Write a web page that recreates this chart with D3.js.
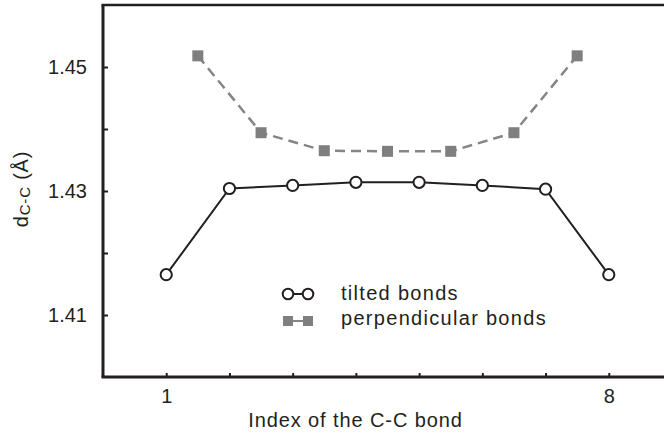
<!DOCTYPE html>
<html>
<head>
<meta charset="utf-8">
<script src="https://cdn.jsdelivr.net/npm/d3@7"></script>
<style>
  html, body { margin: 0; padding: 0; background: #fff; }
  svg { display: block; }
  text { font-family: "Liberation Sans", Arial, sans-serif; fill: #231f20; }
</style>
</head>
<body>
<svg id="chart" width="664" height="434"></svg>
<script>
// Bond index and C-C bond lengths (Å)
const tiltedIndex = [1, 2, 3, 4, 5, 6, 7, 8];
const tiltedLength = [1.4165, 1.4304, 1.4309, 1.4314, 1.4314, 1.4309, 1.4303, 1.4165];
const perpIndex = [1.5, 2.5, 3.5, 4.5, 5.5, 6.5, 7.5];
const perpLength = [1.4518, 1.4394, 1.4365, 1.4364, 1.4364, 1.4394, 1.4518];

const xTicks = [1, 2, 3, 4, 5, 6, 7, 8];
const xTickLabels = { 1: "1", 8: "8" };
const yTicks = [1.41, 1.42, 1.43, 1.44, 1.45];
const yTickLabels = { "1.41": "1.41", "1.43": "1.43", "1.45": "1.45" };

const legendLabels = ["tilted bonds", "perpendicular bonds"];

const ink = "#231f20";
const grey = "#7f7f7f";
const greyLine = "#858585";

const svg = d3.select("#chart");

const x = d3.scaleLinear().domain([0, 9]).range([103, 672]);
const y = d3.scaleLinear().domain([1.40, 1.46]).range([377, 5]);

// Axes with inward ticks
const yAxis = d3.axisLeft(y)
  .tickValues(yTicks)
  .tickSize(-5)
  .tickPadding(16)
  .tickFormat(d => yTickLabels[d.toFixed(2)] || "");

const xAxis = d3.axisBottom(x)
  .tickValues(xTicks)
  .tickSize(-4)
  .tickPadding(12)
  .tickFormat(d => xTickLabels[d] || "");

const gy = svg.append("g").attr("transform", `translate(${x(0)},0)`).call(yAxis);
const gx = svg.append("g").attr("transform", `translate(0,${y(1.40)})`).call(xAxis);

[gx, gy].forEach(g => {
  g.select(".domain").remove();
  g.selectAll(".tick line").attr("stroke", ink).attr("stroke-width", 2);
  g.selectAll(".tick text")
    .style("font-family", "'Liberation Sans', Arial, sans-serif")
    .style("font-size", "20px")
    .attr("fill", ink);
});

// Frame: left, bottom and top lines
svg.append("line")
  .attr("x1", x(0)).attr("x2", x(0))
  .attr("y1", y(1.46)).attr("y2", y(1.40))
  .attr("stroke", ink).attr("stroke-width", 3);
svg.append("line")
  .attr("x1", x(0) - 1.5).attr("x2", x(9))
  .attr("y1", y(1.40)).attr("y2", y(1.40))
  .attr("stroke", ink).attr("stroke-width", 3);
svg.append("line")
  .attr("x1", x(0) - 1.5).attr("x2", x(9))
  .attr("y1", y(1.46)).attr("y2", y(1.46))
  .attr("stroke", ink).attr("stroke-width", 2.5);

// Axis titles
svg.append("text")
  .attr("x", (x(0) + 608) / 2)
  .attr("y", 427)
  .attr("text-anchor", "middle")
  .style("font-size", "20px")
  .style("letter-spacing", "0.9px")
  .text("Index of the C-C bond");

const yLabel = svg.append("text")
  .attr("transform", `translate(28,${y(1.43) - 2}) rotate(-90)`)
  .attr("text-anchor", "middle")
  .style("font-size", "20px")
  .style("letter-spacing", "0.8px");
yLabel.append("tspan").text("d");
yLabel.append("tspan").style("font-size", "15px").attr("dy", 2).text("C-C");
yLabel.append("tspan").attr("dy", -2).text(" (Å)");

// Perpendicular bonds: dashed grey line with squares
const perp = perpIndex.map((d, i) => [d, perpLength[i]]);
const tilted = tiltedIndex.map((d, i) => [d, tiltedLength[i]]);
const line = d3.line().x(d => x(d[0])).y(d => y(d[1]));

svg.append("path")
  .datum(perp)
  .attr("d", line)
  .attr("fill", "none")
  .attr("stroke", greyLine)
  .attr("stroke-width", 2.5)
  .attr("stroke-dasharray", "10,6");

const sq = 11;
svg.selectAll("rect.perp")
  .data(perp)
  .join("rect")
  .attr("class", "perp")
  .attr("x", d => x(d[0]) - sq / 2)
  .attr("y", d => y(d[1]) - sq / 2)
  .attr("width", sq).attr("height", sq)
  .attr("fill", grey);

// Tilted bonds: solid black line with open circles
svg.append("path")
  .datum(tilted)
  .attr("d", line)
  .attr("fill", "none")
  .attr("stroke", ink)
  .attr("stroke-width", 2);

svg.selectAll("circle.tilted")
  .data(tilted)
  .join("circle")
  .attr("class", "tilted")
  .attr("cx", d => x(d[0]))
  .attr("cy", d => y(d[1]))
  .attr("r", 5.6)
  .attr("fill", "#fff")
  .attr("stroke", ink)
  .attr("stroke-width", 2);

// Legend
const lg = svg.append("g");
const lx1 = 288, lx2 = 308, ly1 = 294, ly2 = 321;
lg.append("line").attr("x1", lx1).attr("x2", lx2).attr("y1", ly1).attr("y2", ly1)
  .attr("stroke", ink).attr("stroke-width", 2);
[lx1, lx2].forEach(cx => {
  lg.append("circle").attr("cx", cx).attr("cy", ly1).attr("r", 5.3)
    .attr("fill", "#fff").attr("stroke", ink).attr("stroke-width", 2);
});
lg.append("line").attr("x1", lx1).attr("x2", lx2).attr("y1", ly2).attr("y2", ly2)
  .attr("stroke", greyLine).attr("stroke-width", 2);
[lx1, lx2].forEach(cx => {
  lg.append("rect").attr("x", cx - 5).attr("y", ly2 - 5).attr("width", 10).attr("height", 10)
    .attr("fill", grey);
});
lg.selectAll("text.leg")
  .data(legendLabels)
  .join("text")
  .attr("class", "leg")
  .attr("x", 341)
  .attr("y", (d, i) => i === 0 ? 300 : 325)
  .style("font-size", "20px")
  .style("letter-spacing", "1.3px")
  .text(d => d);
</script>
</body>
</html>
